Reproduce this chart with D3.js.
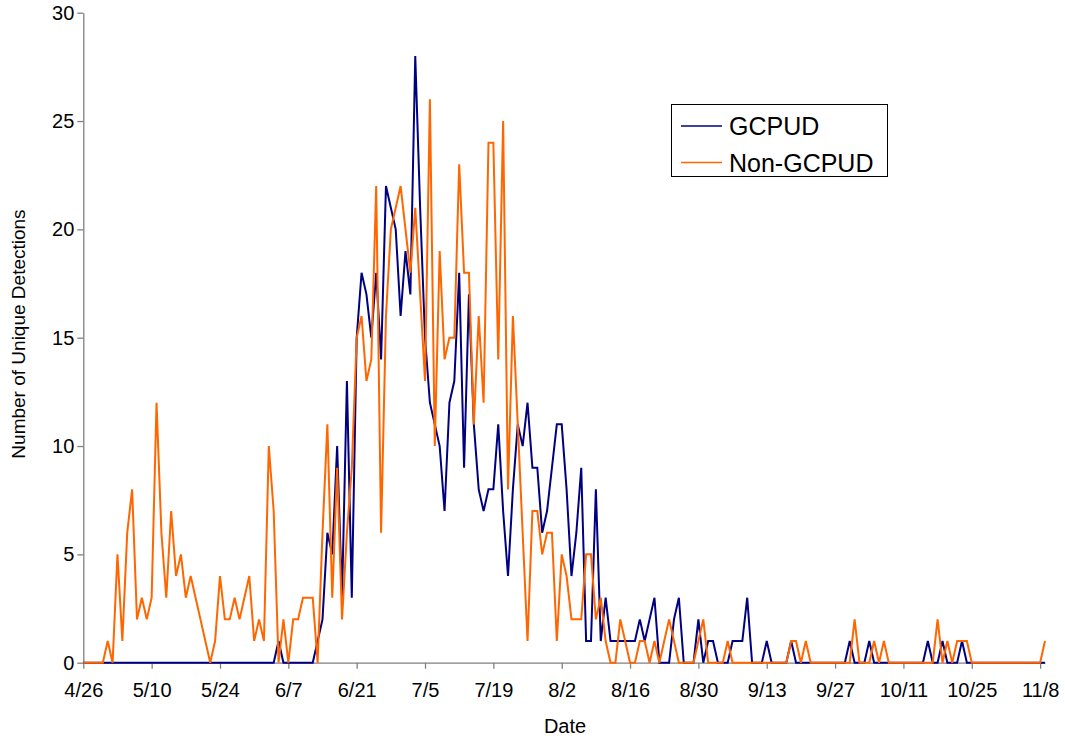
<!DOCTYPE html>
<html>
<head>
<meta charset="utf-8">
<script src="https://cdn.jsdelivr.net/npm/d3@7"></script>
<style>
  html, body { margin: 0; padding: 0; background: #fff; }
  svg { display: block; font-family: "Liberation Sans", Arial, sans-serif; }
</style>
</head>
<body>
<svg id="chart" width="1065" height="738"></svg>
<script>
// ---- data (daily counts, day 0 = 4/26) ----
const tickDays = [0, 14, 28, 42, 56, 70, 84, 98, 112, 126, 140, 154, 168, 182, 196];
const tickLabels = ["4/26", "5/10", "5/24", "6/7", "6/21", "7/5", "7/19", "8/2", "8/16", "8/30", "9/13", "9/27", "10/11", "10/25", "11/8"];
const yTicks = [0, 5, 10, 15, 20, 25, 30];
const seriesNames = ["GCPUD", "Non-GCPUD"];

const gcpud = [
  0,0,0,0,0,0,0,0,0,0,
  0,0,0,0,0,0,0,0,0,0,
  0,0,0,0,0,0,0,0,0,0,
  0,0,0,0,0,0,0,0,0,0,
  1,0,0,0,0,0,0,0,1,2,
  6,5,10,3,13,3,15,18,17,15,
  18,14,22,21,20,16,19,17,28,21,
  15,12,11,10,7,12,13,18,9,17,
  11,8,7,8,8,11,7,4,8,11,
  10,12,9,9,6,7,9,11,11,8,
  4,6,9,1,1,8,1,3,1,1,
  1,1,1,1,2,1,2,3,0,0,
  0,2,3,0,0,0,2,0,1,1,
  0,0,0,1,1,1,3,0,0,0,
  1,0,0,0,0,1,0,0,0,0,
  0,0,0,0,0,0,0,1,0,0,
  0,1,0,0,0,0,0,0,0,0,
  0,0,0,1,0,0,1,0,0,0,
  1,0,0,0,0,0,0,0,0,0,
  0,0,0,0,0,0,0,0
];

const nonGcpud = [
  0,0,0,0,0,1,0,5,1,6,
  8,2,3,2,3,12,6,3,7,4,
  5,3,4,3,2,1,0,1,4,2,
  2,3,2,3,4,1,2,1,10,7,
  0,2,0,2,2,3,3,3,0,6,
  11,3,9,2,6,9,15,16,13,14,
  22,6,16,20,21,22,20,18,21,17,
  13,26,10,19,14,15,15,23,18,18,
  11,16,12,24,24,14,25,8,16,11,
  6,1,7,7,5,6,6,1,5,4,
  2,2,2,5,5,2,3,1,0,0,
  2,1,0,0,1,1,0,1,0,1,
  2,1,0,0,0,0,1,2,0,0,
  0,0,1,0,0,0,0,0,0,0,
  0,0,0,0,0,1,1,0,1,0,
  0,0,0,0,0,0,0,0,2,0,
  0,0,1,0,1,0,0,0,0,0,
  0,0,0,0,0,2,0,1,0,1,
  1,1,0,0,0,0,0,0,0,0,
  0,0,0,0,0,0,0,1
];

// ---- layout ----
const svg = d3.select("#chart");
const colors = { GCPUD: "#000080", "Non-GCPUD": "#FF6600" };
const x = d3.scaleLinear().domain([0, 197]).range([83.3, 1045]);
const y = d3.scaleLinear().domain([0, 30]).range([662.7, 12.7]);
const axisColor = "#808080";

// y axis
const gy = svg.append("g").attr("transform", "translate(83.3,0)")
  .call(d3.axisLeft(y).tickValues(yTicks).tickSize(6).tickSizeOuter(0).tickPadding(3));
gy.select(".domain").attr("stroke", axisColor).attr("stroke-width", 1.3);
gy.selectAll(".tick line").attr("stroke", axisColor).attr("stroke-width", 1.3);
gy.selectAll(".tick text").attr("font-size", 20).attr("fill", "#000")
  .attr("font-family", "Liberation Sans, Arial, sans-serif");

// x axis
const gx = svg.append("g").attr("transform", "translate(0,662.7)")
  .call(d3.axisBottom(x).tickValues(tickDays).tickFormat((d, i) => tickLabels[i])
    .tickSize(6).tickSizeOuter(0).tickPadding(14));
gx.select(".domain").attr("stroke", axisColor).attr("stroke-width", 1.3);
gx.selectAll(".tick line").attr("stroke", axisColor).attr("stroke-width", 1.3);
gx.selectAll(".tick text").attr("font-size", 20).attr("fill", "#000")
  .attr("font-family", "Liberation Sans, Arial, sans-serif");

// lines
const line = d3.line().x((d, i) => x(i)).y(d => y(d));
svg.append("path").datum(gcpud).attr("d", line)
  .attr("fill", "none").attr("stroke", colors.GCPUD).attr("stroke-width", 2).attr("stroke-linejoin", "miter");
svg.append("path").datum(nonGcpud).attr("d", line)
  .attr("fill", "none").attr("stroke", colors["Non-GCPUD"]).attr("stroke-width", 2).attr("stroke-linejoin", "miter");

// axis titles
svg.append("text").attr("x", 565).attr("y", 733).attr("text-anchor", "middle")
  .attr("font-size", 20).text("Date");
svg.append("text").attr("transform", "translate(25,334) rotate(-90)").attr("text-anchor", "middle")
  .attr("font-size", 19).text("Number of Unique Detections");

// legend
const lg = svg.append("g");
lg.append("rect").attr("x", 671.5).attr("y", 104.5).attr("width", 216).attr("height", 72)
  .attr("fill", "#fff").attr("stroke", "#000").attr("stroke-width", 1);
seriesNames.forEach((name, i) => {
  const yy = 126 + i * 36.5;
  lg.append("line").attr("x1", 681).attr("x2", 722).attr("y1", yy).attr("y2", yy)
    .attr("stroke", colors[name]).attr("stroke-width", 1.5);
  lg.append("text").attr("x", 729).attr("y", yy + 9).attr("font-size", 25).text(name);
});
</script>
</body>
</html>
